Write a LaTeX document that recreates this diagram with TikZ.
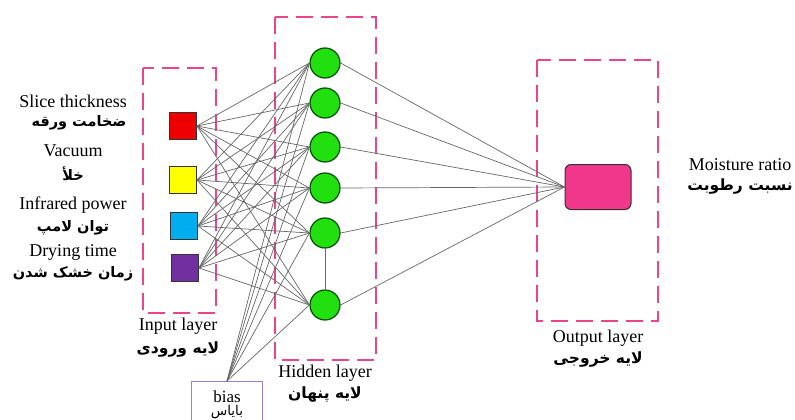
\documentclass[tikz,border=0pt]{standalone}
\usepackage{fontspec}
\setmainfont{Liberation Serif}
\newfontfamily\fafont[Script=Arabic]{DejaVu Sans}
\TeXXeTstate=1
\usetikzlibrary{positioning}
\definecolor{layerpink}{HTML}{E8458C}
\definecolor{outpink}{HTML}{F0378C}
\definecolor{nodegreen}{HTML}{22E010}
\definecolor{inred}{HTML}{EE0000}
\definecolor{inyellow}{HTML}{FFFF00}
\definecolor{inblue}{HTML}{00AEEF}
\definecolor{inpurple}{HTML}{7030A0}
\definecolor{biaspurple}{HTML}{9B7FD0}
\newcommand{\fatext}[1]{{\fafont\beginR #1\endR}}
\tikzset{
  inbox/.style  ={rectangle, draw=black!80, line width=0.9pt, minimum size=27pt, inner sep=0pt},
  hid/.style    ={circle, draw=green!30!black, fill=nodegreen, line width=1.2pt,
                  minimum size=30pt, inner sep=0pt},
  outbox/.style ={rectangle, rounded corners=6pt, draw=black!80, fill=outpink, line width=1pt,
                  minimum width=66pt, minimum height=45pt},
  layerbox/.style={draw=layerpink, line width=2.4pt, dash pattern=on 17pt off 8pt},
  wire/.style   ={draw=black!60, line width=0.7pt},
  en/.style     ={font=\fontsize{18}{20}\selectfont, inner sep=0pt},
  fa/.style     ={font=\fontsize{14.5}{16}\selectfont\bfseries, inner sep=0pt},
  fab/.style    ={font=\fontsize{15.5}{17}\selectfont\bfseries, inner sep=0pt},
}
\begin{document}
\begin{tikzpicture}[x=1pt, y=-1pt]
  \useasboundingbox (0,0) rectangle (795,420);
  % layer frames
  \draw[layerbox] (143,68) rectangle (216,313);
  \draw[layerbox] (275,17) rectangle (376,360);
  \draw[layerbox] (537,60) rectangle (658,321);

  % input nodes
  \node[inbox, fill=inred]    (i1) at (183,126) {};
  \node[inbox, fill=inyellow] (i2) at (183,180) {};
  \node[inbox, fill=inblue]   (i3) at (184,226) {};
  \node[inbox, fill=inpurple] (i4) at (185,268) {};

  % hidden nodes
  \foreach \k/\y in {1/63, 2/103, 3/147, 4/188, 5/233, 6/305}
    \node[hid] (h\k) at (325,\y) {};

  % output node
  \node[outbox] (out) at (598,187) {};

  % bias
  \begin{scope}
    \clip (0,0) rectangle (795,420);
    \node[draw=biaspurple, line width=1pt, minimum width=71pt, minimum height=46pt,
          anchor=north, align=center, inner sep=1pt] (bias) at (227,381)
      {\fontsize{17}{15}\selectfont bias\\[1pt]\fontsize{13.5}{13}\selectfont\fatext{بایاس}};
  \end{scope}

  % connections
  \foreach \i in {1,...,4}
    \foreach \k in {1,...,6}
      \draw[wire] (i\i.east) -- (h\k.west);
  \foreach \k in {1,...,6} {
    \draw[wire] (bias.north) -- (h\k.west);
    \draw[wire] (h\k.east) -- (out.west);
  }
  \draw[draw=blue!25!gray, line width=0.6pt] (h5) -- (h6);

  % input labels
  \node[en] (l1) at (73,101) {Slice thickness};
  \node[fa] (p1) at (79,123) {\fatext{ضخامت ورقه}};
  \node[en] (l2) at (73,151) {Vacuum};
  \node[fa] (p2) at (73,174) {\fatext{خلأ}};
  \node[en] (l3) at (73,205) {Infrared power};
  \node[fa] (p3) at (73,228) {\fatext{توان لامپ}};
  \node[en] (l4) at (73,252) {Drying time};
  \node[fa] (p4) at (73,274) {\fatext{زمان خشک شدن}};

  % layer labels
  \node[en] (lin)  at (178,326) {Input layer};
  \node[fab] (pin) at (178,350) {\fatext{لایه ورودی}};
  \node[en] (lhid)  at (325,373) {Hidden layer};
  \node[fab] (phid) at (325,395) {\fatext{لایه پنهان}};
  \node[en] (lout)  at (598,338) {Output layer};
  \node[fab] (pout) at (598,359) {\fatext{لایه خروجی}};
  \node[en] (lmr)  at (740,165) {Moisture ratio};
  \node[fab] (pmr) at (740,187) {\fatext{نسبت رطوبت}};
\end{tikzpicture}
\end{document}
